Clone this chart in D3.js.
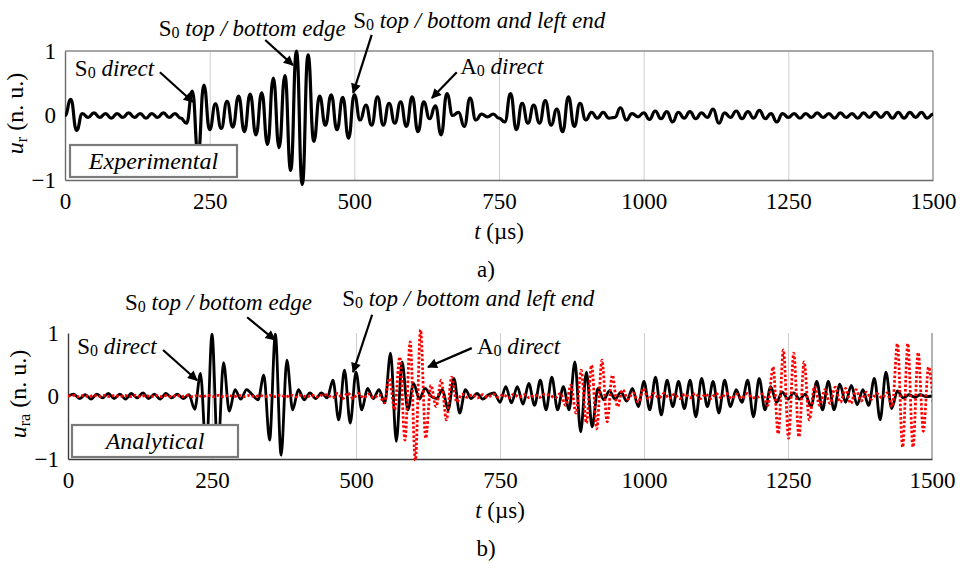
<!DOCTYPE html>
<html>
<head>
<meta charset="utf-8">
<script src="https://cdn.jsdelivr.net/npm/d3@7"></script>
<style>
  body { margin: 0; background: #fff; }
  svg { display: block; }
  text { font-family: "Liberation Serif", "Tinos", "Times New Roman", "DejaVu Serif", serif; fill: #000; }
</style>
</head>
<body>
<script>
// ---- data -------------------------------------------------------------
// time axis (µs)
const timeDomain = [0, 1500];
const xTicks = [0, 250, 500, 750, 1000, 1250, 1500];
const gridTicks = [250, 500, 750, 1000, 1250];
const yTicks = [-1, 0, 1];

// experimental u_r, sampled every 10 µs from t = 0
const expStep = 10;
const expU = [
  0, 0.25, -0.23, 0.03, -0.03, 0.04, -0.03, 0.03, -0.04, 0.03,
  -0.03, 0.04, -0.03, 0.03, -0.04, 0.03, -0.03, 0.04, -0.03, 0.03,
  -0.04, -0.12, 0.38, -0.6, 0.47, -0.22, 0.18, -0.2, 0.22, -0.18,
  0.3, -0.25, 0.33, -0.3, 0.35, -0.45, 0.58, -0.5, 0.62, -0.85,
  1.0, -1.07, 0.94, -0.4, 0.3, -0.15, 0.32, -0.22, 0.28, -0.35,
  0.32, -0.07, 0.16, -0.15, 0.29, -0.15, 0.19, -0.12, 0.21, -0.17,
  0.29, -0.25, 0.21, -0.05, 0.15, -0.3, 0.34, 0.0, 0.05, -0.17,
  0.27, -0.07, 0.02, -0.02, 0.02, -0.04, -0.1, 0.34, -0.22, 0.19,
  -0.12, 0.16, -0.12, 0.23, -0.15, 0.1, -0.25, 0.29, -0.17, 0.19,
  -0.07, 0.05, -0.04, 0.05, -0.04, -0.03, 0.12, -0.07, 0.03, -0.02,
  0.04, -0.06, 0.07, -0.05, 0.06, -0.1, 0.05, -0.04, 0.06, -0.05,
  0.04, -0.03, 0.1, -0.12, 0.04, -0.03, 0.07, -0.05, 0.06, -0.04,
  0.08, -0.05, 0.03, -0.1, 0.03, -0.03, 0.03, -0.04, 0.03, -0.03,
  0.04, -0.03, 0.03, -0.04, 0.04, -0.03, 0.03, -0.04, 0.04, -0.03,
  0.05, -0.03, 0.05, -0.04, 0.05, -0.04, 0.05, -0.03, 0.05, -0.04,
  0.02
];

// analytical u_ra (solid), sampled every 10 µs from t = 0
const anaStep = 10;
const anaU = [
  0, 0.03, -0.04, 0.02, -0.05, 0.03, -0.03, 0.04, -0.04, 0.03,
  -0.05, 0.04, -0.03, 0.05, -0.04, 0.03, -0.05, 0.04, -0.03, 0.03,
  -0.04, 0.02, -0.21, 0.36, -0.92, 0.98, -0.92, 0.53, -0.24, 0.1,
  -0.05, 0.1, 0.02, -0.06, 0.33, -0.7, 0.98, -0.94, 0.57, -0.22,
  0.1, -0.06, 0.05, -0.04, 0.05, -0.03, 0.25, -0.38, 0.41, -0.43,
  0.38, -0.22, 0.12, -0.04, 0.1, -0.11, 0.68, -0.72, 0.54, -0.22,
  0.2, -0.05, 0.12, 0.0, -0.04, 0.1, -0.22, 0.28, -0.27, 0.1,
  -0.04, 0.04, -0.05, 0.02, 0.05, -0.1, 0.15, -0.11, 0.15, -0.13,
  0.2, -0.15, 0.25, -0.22, 0.3, -0.22, 0.15, -0.22, 0.54, -0.57,
  0.38, -0.49, 0.12, -0.06, 0.08, -0.05, 0.06, -0.08, 0.12, -0.17,
  0.23, -0.22, 0.3, -0.3, 0.25, -0.17, 0.23, -0.2, 0.25, -0.33,
  0.28, -0.17, 0.23, -0.27, 0.25, -0.17, 0.1, -0.1, 0.25, -0.33,
  0.28, -0.22, 0.15, -0.1, 0.06, -0.05, 0.05, -0.05, 0.03, -0.17,
  0.23, -0.22, 0.23, -0.22, 0.19, -0.1, 0.17, -0.14, 0.1, -0.15,
  0.28, -0.38, 0.38, -0.2, 0.08, -0.03, 0.02, -0.02, 0.02, -0.01,
  0
];

// analytical A0 contribution (dotted), sampled every 9 µs from t = 0
const a0Step = 9;
const anaA0 = [
  0, 0.01, -0.01, 0.01, -0.01, 0.01, -0.01, 0.01, -0.01, 0.01,
  -0.01, 0.01, -0.01, 0.01, -0.01, 0.01, -0.01, 0.01, -0.01, 0.01,
  -0.01, 0.01, -0.01, 0.01, -0.01, 0.01, -0.01, 0.01, -0.01, 0.01,
  -0.01, 0.01, -0.01, 0.01, -0.01, 0.01, -0.01, 0.01, -0.01, 0.01,
  -0.01, 0.015, -0.015, 0.015, -0.015, 0.015, -0.015, 0.015, -0.015, 0.015,
  0.02, -0.03, 0.04, -0.04, 0.05, -0.04, 0.04, -0.03, 0.03, -0.03,
  0.02, -0.11, 0.28, -0.22, 0.62, -0.7, 0.86, -1.02, 1.05, -0.67,
  0.17, -0.17, 0.25, -0.38, 0.3, -0.1, 0.03, -0.02, 0.02, -0.03,
  0.02, -0.02, 0.03, -0.02, 0.02, -0.03, 0.03, -0.02, 0.02, -0.03,
  0.02, -0.02, 0.03, 0.01, -0.03, 0.04, -0.15, 0.17, -0.27, 0.41,
  -0.43, 0.49, -0.52, 0.57, -0.41, 0.33, -0.17, 0.1, -0.05, 0.05,
  -0.1, 0.12, -0.05, 0.04, -0.03, 0.04, -0.04, 0.03, -0.04, 0.03,
  -0.03, 0.04, -0.04, 0.03, -0.04, 0.04, -0.03, 0.04, -0.04, 0.03,
  -0.04, 0.04, -0.03, -0.02, 0.03, -0.15, 0.46, -0.6, 0.73, -0.67,
  0.68, -0.65, 0.54, -0.38, 0.15, -0.15, 0.1, -0.12, 0.14, -0.1,
  0.12, -0.12, 0.1, -0.08, 0.06, -0.05, 0.04, -0.03, 0.05, -0.17,
  0.83, -0.81, 0.83, -0.81, 0.69, -0.56, 0.46, -0.2
];

// annotation texts, anchored in data units (t, u)
const notesA = [
  { text: ["S", "0", " direct"], at: [17, 0.61], from: [164, 0.67], to: [221, 0.21] },
  { text: ["S", "0", " top / bottom edge"], at: [162, 1.23], from: [346, 1.17], to: [394, 0.78] },
  { text: ["S", "0", " top / bottom and left end"], at: [498, 1.36], from: [530, 1.25], to: [498, 0.35] },
  { text: ["A", "0", " direct"], at: [683, 0.64], from: [677, 0.67], to: [634, 0.27] }
];
const notesB = [
  { text: ["S", "0", " direct"], at: [16, 0.67], from: [165, 0.73], to: [224, 0.25] },
  { text: ["S", "0", " top / bottom edge"], at: [99, 1.37], from: [311, 1.25], to: [359, 0.89] },
  { text: ["S", "0", " top / bottom and left end"], at: [476, 1.43], from: [528, 1.29], to: [495, 0.38] },
  { text: ["A", "0", " direct"], at: [710, 0.67], from: [701, 0.76], to: [625, 0.46] }
];

// ---- drawing ----------------------------------------------------------
const W = 963, H = 568;
const FONT = '"Liberation Serif", "Tinos", "Times New Roman", "DejaVu Serif", serif';
const svg = d3.select("body").append("svg").attr("width", W).attr("height", H);
const defs = svg.append("defs");
defs.append("marker")
  .attr("id", "arrowhead")
  .attr("viewBox", "0 0 10 10")
  .attr("refX", 9).attr("refY", 5)
  .attr("markerWidth", 16).attr("markerHeight", 10)
  .attr("markerUnits", "userSpaceOnUse")
  .attr("orient", "auto")
  .append("path").attr("d", "M0,0L10,5L0,10Z").attr("fill", "#000");

const FS = 23;      // annotation / label size
const TICK_FS = 23; // tick label size

function toSeries(values, step) {
  return values.map((v, i) => ({ t: i * step, u: v }));
}

function drawPanel(cfg) {
  const x = d3.scaleLinear().domain(timeDomain).range([cfg.left, cfg.right]);
  const y = d3.scaleLinear().domain([-1, 1]).range([cfg.bottom, cfg.top]);
  const g = svg.append("g").style("font-family", FONT);
  const h = cfg.bottom - cfg.top;

  // vertical grid
  g.append("g")
    .attr("transform", `translate(0,${cfg.bottom})`)
    .call(d3.axisBottom(x).tickValues(gridTicks).tickSize(-h).tickFormat(""))
    .call(a => a.select(".domain").remove())
    .call(a => a.selectAll(".tick line").attr("stroke", "#cfcfcf").attr("stroke-width", 1));

  // frame
  if (cfg.topFrame) {
    g.append("line").attr("x1", cfg.left).attr("x2", cfg.right)
      .attr("y1", cfg.top).attr("y2", cfg.top)
      .attr("stroke", "#8a8a8a").attr("stroke-width", 1.3);
  }
  g.append("line").attr("x1", cfg.right).attr("x2", cfg.right)
    .attr("y1", cfg.top).attr("y2", cfg.bottom)
    .attr("stroke", "#8a8a8a").attr("stroke-width", 1.3);

  // axes with labels
  const xAxis = g.append("g")
    .attr("transform", `translate(0,${cfg.bottom})`)
    .call(d3.axisBottom(x).tickValues(xTicks).tickSize(0).tickPadding(13).tickFormat(d3.format("d")));
  xAxis.attr("font-family", null).attr("font-size", null);
  xAxis.select(".domain").attr("stroke", cfg.axisColor).attr("stroke-width", 1.4);
  xAxis.selectAll("text").style("font-size", TICK_FS + "px").style("font-family", FONT).attr("fill", "#000");

  const yAxis = g.append("g")
    .attr("transform", `translate(${cfg.left},0)`)
    .call(d3.axisLeft(y).tickValues(yTicks).tickSize(0).tickPadding(9)
      .tickFormat(d => d < 0 ? "\u2212" + Math.abs(d) : String(d)));
  yAxis.attr("font-family", null).attr("font-size", null);
  yAxis.select(".domain").attr("stroke", cfg.axisColor).attr("stroke-width", 1.4);
  yAxis.selectAll("text").style("font-size", TICK_FS + "px").style("font-family", FONT).attr("fill", "#000");

  // clip
  const clipId = "clip-" + cfg.id;
  defs.append("clipPath").attr("id", clipId)
    .append("rect").attr("x", cfg.left).attr("y", cfg.top - 10)
    .attr("width", cfg.right - cfg.left).attr("height", h + 20);

  const plot = g.append("g").attr("clip-path", `url(#${clipId})`);
  cfg.series.forEach(s => {
    const line = d3.line().x(d => x(d.t)).y(d => y(d.u)).curve(s.curve);
    plot.append("path")
      .datum(toSeries(s.values, s.step))
      .attr("d", line)
      .attr("fill", "none")
      .attr("stroke", s.color)
      .attr("stroke-width", s.width)
      .attr("stroke-dasharray", s.dash || null)
      .attr("stroke-linejoin", "round");
  });

  // boxed caption
  const box = g.append("g");
  box.append("rect")
    .attr("x", cfg.box.x).attr("y", cfg.box.y)
    .attr("width", cfg.box.w).attr("height", cfg.box.h)
    .attr("fill", "#fff").attr("stroke", "#7a7a7a").attr("stroke-width", 2.2);
  box.append("text")
    .attr("x", cfg.box.x + cfg.box.w / 2).attr("y", cfg.box.y + cfg.box.h - 8)
    .attr("text-anchor", "middle")
    .style("font-size", (FS + 1) + "px").style("font-style", "italic")
    .text(cfg.box.label);

  // annotations
  cfg.notes.forEach(n => {
    g.append("line")
      .attr("x1", x(n.from[0])).attr("y1", y(n.from[1]))
      .attr("x2", x(n.to[0])).attr("y2", y(n.to[1]))
      .attr("stroke", "#000").attr("stroke-width", 2.2)
      .attr("marker-end", "url(#arrowhead)");
    const t = g.append("text")
      .attr("x", x(n.at[0])).attr("y", y(n.at[1]))
      .style("font-size", FS + "px");
    t.append("tspan").text(n.text[0]);
    t.append("tspan").text(n.text[1]).style("font-size", "16px").attr("dy", 2);
    t.append("tspan").text(n.text[2]).style("font-style", "italic").attr("dy", -2);
  });

  // y label
  const yl = g.append("text")
    .attr("transform", `translate(${cfg.left - 42},${(cfg.top + cfg.bottom) / 2 - 2}) rotate(-90)`)
    .attr("text-anchor", "middle")
    .style("font-size", (FS + 1) + "px");
  yl.append("tspan").text("u").style("font-style", "italic");
  yl.append("tspan").text(cfg.ySub).style("font-size", "16px").attr("dy", 4);
  yl.append("tspan").text(" (n. u.)").attr("dy", -4);

  // x label
  const xl = g.append("text")
    .attr("x", (cfg.left + cfg.right) / 2).attr("y", cfg.bottom + 59)
    .attr("text-anchor", "middle")
    .style("font-size", FS + "px");
  xl.append("tspan").text("t").style("font-style", "italic");
  xl.append("tspan").text(" (\u00b5s)");

  // panel tag
  g.append("text")
    .attr("x", cfg.tagX).attr("y", cfg.bottom + 97)
    .attr("text-anchor", "middle")
    .style("font-size", FS + "px")
    .text(cfg.tag);
}

drawPanel({
  id: "a", left: 65, right: 933, top: 51, bottom: 180,
  topFrame: true, axisColor: "#6a6a6a",
  ySub: "r", tag: "a)", tagX: 486,
  box: { x: 70, y: 145, w: 167, h: 32, label: "Experimental" },
  notes: notesA,
  series: [
    { values: expU, step: expStep, color: "#000", width: 3.2, curve: d3.curveBumpX }
  ]
});

drawPanel({
  id: "b", left: 68, right: 932, top: 333, bottom: 459,
  topFrame: false, axisColor: "#3a3a3a",
  ySub: "ra", tag: "b)", tagX: 486,
  box: { x: 72, y: 425, w: 166, h: 32, label: "Analytical" },
  notes: notesB,
  series: [
    { values: anaU, step: anaStep, color: "#000", width: 2.8, curve: d3.curveMonotoneX },
    { values: anaA0, step: a0Step, color: "#ff0000", width: 2.8, dash: "2.5,2", curve: d3.curveMonotoneX }
  ]
});
</script>
</body>
</html>
